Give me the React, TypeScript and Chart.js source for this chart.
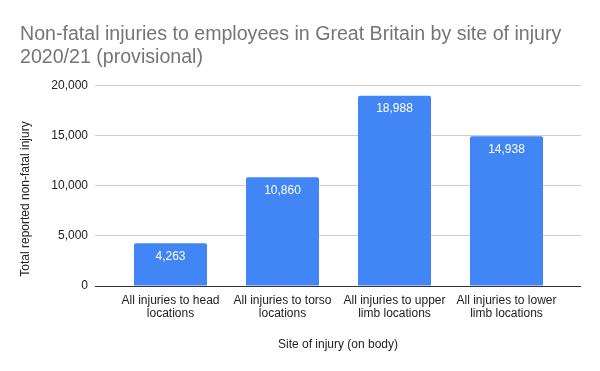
import React, { useEffect, useRef } from "react";
import { Chart, registerables } from "chart.js";

Chart.register(...registerables);

const titleLines = [
  "Non-fatal injuries to employees in Great Britain by site of injury",
  "2020/21 (provisional)",
];
const categories = [
  ["All injuries to head", "locations"],
  ["All injuries to torso", "locations"],
  ["All injuries to upper", "limb locations"],
  ["All injuries to lower", "limb locations"],
];
const values = [4263, 10860, 18988, 14938];
const yTickValues = [0, 5000, 10000, 15000, 20000];
const xTitle = "Site of injury (on body)";
const yTitle = "Total reported non-fatal injury";

const FONT = "'Liberation Sans', Arial, sans-serif";

const fmt = (v: number) => v.toLocaleString("en-US");

const overlayPlugin = {
  id: "overlay",
  afterDatasetsDraw(chart: any) {
    const { ctx } = chart;
    const meta = chart.getDatasetMeta(0);
    ctx.save();
    ctx.fillStyle = "#ffffff";
    ctx.font = `12px ${FONT}`;
    ctx.textAlign = "center";
    ctx.textBaseline = "middle";
    meta.data.forEach((bar: any, i: number) => {
      ctx.fillText(fmt(values[i]), bar.x, bar.y + 13.5);
    });
    ctx.restore();
  },
  afterDraw(chart: any) {
    const { ctx, chartArea } = chart;
    ctx.save();
    // chart title
    ctx.fillStyle = "#757575";
    ctx.font = `19.6px ${FONT}`;
    ctx.textAlign = "left";
    ctx.textBaseline = "alphabetic";
    titleLines.forEach((t, i) => ctx.fillText(t, 20, 40 + i * 23));
    // x axis title
    ctx.fillStyle = "#222222";
    ctx.font = `12px ${FONT}`;
    ctx.textAlign = "center";
    ctx.textBaseline = "middle";
    ctx.fillText(xTitle, (chartArea.left + chartArea.right) / 2, 345);
    // y axis title
    ctx.font = `12px ${FONT}`;
    ctx.translate(26, 199);
    ctx.rotate(-Math.PI / 2);
    ctx.fillText(yTitle, 0, 0);
    ctx.restore();
  },
};

export default function App() {
  const ref = useRef<HTMLCanvasElement | null>(null);

  useEffect(() => {
    if (!ref.current) return;
    const chart = new Chart(ref.current, {
      type: "bar",
      data: {
        datasets: [
          {
            data: values.map((v, i) => ({ x: i, y: v })),
            backgroundColor: "#4285F4",
            borderWidth: 0,
            borderRadius: { topLeft: 2, topRight: 2, bottomLeft: 0, bottomRight: 0 },
            borderSkipped: "bottom",
            barPercentage: 0.652,
            categoryPercentage: 1,
          },
        ],
      },
      options: {
        responsive: false,
        animation: false,
        layout: { padding: { left: 0, right: 19, top: 85.5, bottom: 0 } },
        plugins: {
          legend: { display: false },
          tooltip: { enabled: false },
          title: { display: false },
        },
        scales: {
          x: {
            type: "linear",
            offset: false,
            min: -0.674,
            max: 3.665,
            afterBuildTicks: (scale: any) => {
              scale.ticks = categories.map((_, i) => ({ value: i }));
            },
            afterFit: (scale: any) => {
              scale.height = 85;
            },
            ticks: {
              autoSkip: false,
              maxRotation: 0,
              padding: 8,
              color: "#222222",
              font: { family: FONT, size: 12, lineHeight: 1.1 },
              callback: (v: any) => categories[Math.round(Number(v))] ?? "",
            },
            grid: { display: false, drawTicks: false, offset: false },
            border: { display: false },
          },
          y: {
            min: 0,
            max: 20000,
            afterBuildTicks: (scale: any) => {
              scale.ticks = yTickValues.map((v) => ({ value: v }));
            },
            afterFit: (scale: any) => {
              scale.width = 95;
            },
            ticks: {
              padding: 7,
              color: "#222222",
              font: { family: FONT, size: 12 },
              callback: (v: any) => fmt(Number(v)),
            },
            grid: {
              drawTicks: false,
              color: (c: any) => (c.tick && c.tick.value === 0 ? "#333333" : "#cccccc"),
            },
            border: { display: false },
          },
        },
      },
      plugins: [overlayPlugin],
    });
    return () => chart.destroy();
  }, []);

  return (
    <div style={{ position: "fixed", left: 0, top: 0, width: 600, height: 371, background: "#fff" }}>
      <canvas ref={ref} width={600} height={371} />
    </div>
  );
}
